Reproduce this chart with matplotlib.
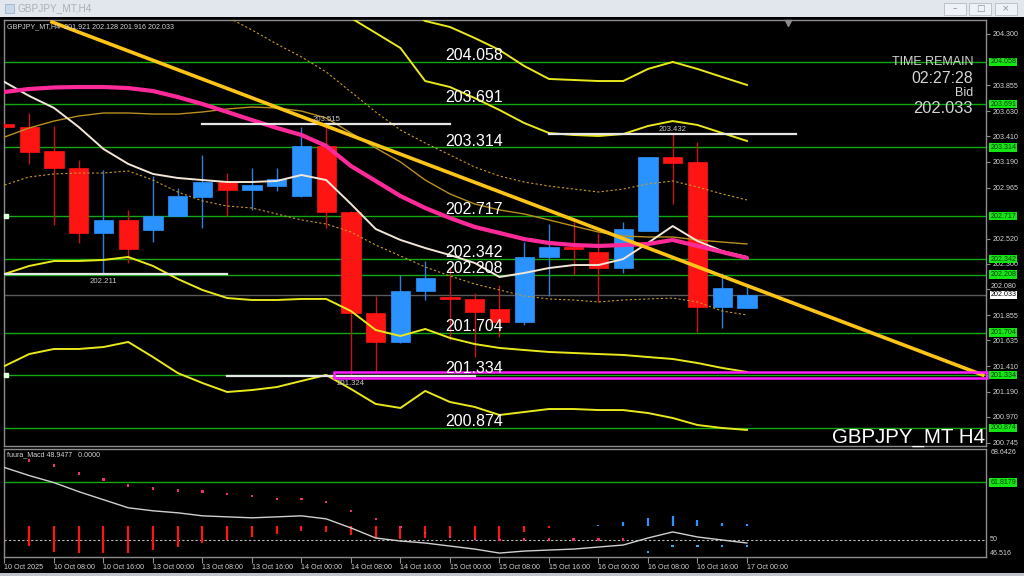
# GBPJPY H4 chart - MetaTrader style recreation
import matplotlib
matplotlib.use('Agg')
import matplotlib.pyplot as plt
from matplotlib import font_manager
from matplotlib.patches import Rectangle
import numpy as np

# ---------------- data ----------------
opens = [203.517, 203.491, 203.283, 203.135, 202.570, 202.683, 202.596, 202.717, 202.883, 203.013,
         202.943, 202.978, 202.891, 203.326, 202.752, 201.874, 201.622, 202.065, 202.013, 201.996,
         201.909, 201.796, 202.361, 202.448, 202.404, 202.265, 202.587, 203.230, 203.187, 201.926, 201.921]
highs = [203.552, 203.613, 203.500, 203.204, 203.117, 202.770, 203.065, 202.961, 203.248, 203.091,
         203.135, 203.135, 203.491, 203.515, 202.761, 202.022, 202.204, 202.326, 202.274, 202.048,
         202.117, 202.491, 202.648, 202.665, 202.570, 202.665, 203.230, 203.432, 203.361, 202.222, 202.128]
lows = [203.483, 203.170, 202.639, 202.483, 202.211, 202.309, 202.491, 202.717, 202.613, 202.717,
        202.770, 202.935, 202.883, 202.613, 201.324, 201.352, 201.613, 201.987, 201.639, 201.491,
        201.665, 201.770, 202.022, 202.204, 201.970, 202.222, 202.587, 202.822, 201.709, 201.743, 201.916]
closes = [203.491, 203.274, 203.135, 202.570, 202.683, 202.430, 202.717, 202.891, 203.013, 202.943,
          202.987, 203.039, 203.326, 202.752, 201.874, 201.622, 202.065, 202.178, 201.996, 201.883,
          201.796, 202.361, 202.448, 202.430, 202.265, 202.604, 203.230, 203.178, 201.926, 202.091, 202.033]

date_labels = ['10 Oct 2025', '10 Oct 08:00', '10 Oct 16:00', '13 Oct 00:00', '13 Oct 08:00',
               '13 Oct 16:00', '14 Oct 00:00', '14 Oct 08:00', '14 Oct 16:00', '15 Oct 00:00',
               '15 Oct 08:00', '15 Oct 16:00', '16 Oct 00:00', '16 Oct 08:00', '16 Oct 16:00',
               '17 Oct 00:00']

# moving averages / bands
ma_fast = [203.883, 203.761, 203.657, 203.491, 203.300, 203.170, 203.083, 203.048, 203.030, 203.013,
           203.013, 203.022, 203.074, 203.030, 202.822, 202.604, 202.509, 202.439, 202.378, 202.309,
           202.187, 202.222, 202.265, 202.291, 202.291, 202.343, 202.483, 202.630, 202.500, 202.413, 202.361]
ma_slow = [203.796, 203.822, 203.835, 203.839, 203.839, 203.830, 203.804, 203.752, 203.691, 203.622,
           203.552, 203.483, 203.422, 203.326, 203.152, 203.022, 202.891, 202.787, 202.700, 202.622,
           202.570, 202.517, 202.483, 202.465, 202.457, 202.465, 202.474, 202.509, 202.457, 202.404, 202.352]
ma_gold = [203.404, 203.483, 203.543, 203.587, 203.613, 203.613, 203.604, 203.604, 203.622, 203.648,
           203.665, 203.657, 203.630, 203.570, 203.439, 203.309, 203.187, 203.030, 202.909, 202.822,
           202.770, 202.735, 202.683, 202.630, 202.578, 202.543, 202.535, 202.535, 202.509, 202.491, 202.474]
dash_low = [202.987, 203.057, 203.083, 203.091, 203.091, 203.109, 203.030, 202.926, 202.848, 202.804,
            202.787, 202.735, 202.683, 202.648, 202.578, 202.465, 202.370, 202.274, 202.196, 202.126,
            202.074, 202.022, 201.996, 201.987, 201.970, 201.987, 201.996, 202.004, 201.970, 201.891, 201.857]
dash_up_start = 8
dash_up = [204.570, 204.448, 204.335, 204.213, 204.100, 203.970, 203.796, 203.622, 203.465, 203.352,
           203.248, 203.143, 203.065, 203.013, 202.978, 202.952, 202.926, 202.952, 202.996, 203.022,
           202.970, 202.909, 202.857]
band_up2_start = 13
band_up2 = [204.570, 204.439, 204.309, 204.178, 203.891, 203.839, 203.743, 203.639, 203.526, 203.439,
            203.422, 203.413, 203.430, 203.500, 203.543, 203.509, 203.439, 203.370]
band_up3_start = 15
band_up3 = [204.726, 204.552, 204.413, 204.361, 204.265, 204.161, 204.022, 203.909, 203.900, 203.891,
            203.891, 203.996, 204.057, 203.996, 203.926, 203.857]
band_dn2 = [202.213, 202.283, 202.326, 202.326, 202.335, 202.361, 202.283, 202.170, 202.074, 202.004,
            201.987, 201.987, 201.996, 201.996, 201.891, 201.726, 201.674, 201.735, 201.657, 201.604,
            201.570, 201.552, 201.535, 201.526, 201.517, 201.509, 201.491, 201.474, 201.439, 201.396, 201.361]
band_dn3 = [201.413, 201.517, 201.561, 201.561, 201.578, 201.622, 201.491, 201.352, 201.265, 201.187,
            201.204, 201.230, 201.283, 201.335, 201.213, 201.083, 201.048, 201.196, 201.100, 201.057,
            200.987, 201.013, 201.039, 201.039, 201.030, 201.030, 201.004, 200.961, 200.900, 200.874, 200.857]

# horizontal levels and objects
levels = [204.058, 203.691, 203.314, 202.717, 202.342, 202.208, 201.704, 201.334, 200.874]
level_label_x = 17.8
# scale labels that are not hidden behind the level boxes
price_ticks = [204.300, 203.855, 203.630, 203.410, 203.190, 202.965, 202.520,
               202.300, 202.080, 201.855, 201.635, 201.410, 201.190, 200.970, 200.745]
crowded_tick = 202.080  # sits right above the bid box, nudged up a little
swing_bars = [13, 27, 4, 14]
swing_prices = [203.515, 203.432, 202.211, 201.324]
swing_above = [True, True, False, False]
trend_x = [1.92, 39.53]
trend_y = [204.404, 201.335]
zone_x = [13.3, 39.7]
zone_y = [201.310, 201.358]
bid = 202.033
ohlc_text = 'GBPJPY_MT,H4  201.921 202.128 201.916 202.033'
time_remain = '02:27:28'

# oscillator panel
macd_line = [64.85, 63.20, 61.75, 59.90, 58.25, 56.60, 55.98, 55.57, 54.95, 54.74, 54.54, 54.74,
             54.95, 54.33, 52.47, 50.41, 49.79, 49.38, 48.76, 48.14, 47.32, 47.73, 47.94, 48.14,
             48.56, 48.97, 50.41, 51.65, 50.62, 50.00, 49.38]
macd_dots = [np.nan, 66.29, 65.26, 63.61, 62.37, 61.13, 60.52, 60.10, 59.90, 59.48, 59.07, 58.45,
             58.45, 57.84, 55.98, 54.33, 52.68, 51.44, 50.62, 50.21, 50.00, 50.10, 50.10, 50.10,
             50.10, 50.10, 47.53, 48.76, 48.76, 48.76, 48.76]
macd_hist = [47.94, 48.76, 47.53, 47.32, 47.32, 47.32, 47.94, 48.56, 49.38, 50.00, 50.62, 51.24,
             51.86, 51.65, 51.03, 50.41, 50.21, 50.41, 50.41, 50.41, 50.21, 51.65, 52.47, 52.78,
             53.09, 53.71, 54.54, 54.95, 54.12, 53.51, 53.30]
hist_base = 52.9
macd_level = 61.8179
macd_mid = 50.0
macd_lim = (46.516, 68.6426)

# ---------------- styling ----------------
W, H = 1024, 576
GRID_GREEN = '#12A812'
BOX_GREEN = '#14E614'
RED = '#FF1414'
BLUE = '#2A93FF'
TXT = '#D4D4D4'
SPINE = '#8C8C8C'

plt.rcParams['font.family'] = ['Liberation Sans', 'DejaVu Sans']
names = {f.name for f in font_manager.fontManager.ttflist}
if 'Liberation Sans Narrow' in names:
    NARROW = ['Liberation Sans Narrow', 'Liberation Sans']
    NF = 1.0
else:
    NARROW = ['Liberation Sans', 'DejaVu Sans']
    NF = 0.82
SMALL = 6.3 * NF


def px_x(px):
    return px / W


def px_y(px):
    return 1 - px / H


def style_axes(ax):
    ax.set_facecolor('black')
    for s in ax.spines.values():
        s.set_color(SPINE)
        s.set_linewidth(1.0)


def axis_box(ax, y, text, fc, tc, pad=0.15):
    ax.annotate(text, xy=(1.0, y), xycoords=('axes fraction', 'data'), xytext=(3, 0),
                textcoords='offset points', ha='left', va='center', fontsize=SMALL,
                family=NARROW, color=tc, annotation_clip=False, zorder=20,
                bbox=dict(boxstyle=f'square,pad={pad}', fc=fc, ec='none'))


def axis_label(ax, y, text, va='center', dy=0):
    ax.annotate(text, xy=(1.0, y), xycoords=('axes fraction', 'data'), xytext=(3, dy),
                textcoords='offset points', ha='left', va=va, fontsize=SMALL,
                family=NARROW, color=TXT, annotation_clip=False)


def draw_window(fig):
    # title bar
    fig.patches.append(Rectangle((0, px_y(17)), 1, 17 / H, transform=fig.transFigure,
                                 facecolor='#E2E7ED', edgecolor='none', zorder=0))
    fig.patches.append(Rectangle((px_x(5), px_y(13)), 9 / W, 9 / H, transform=fig.transFigure,
                                 facecolor='#C9D8E8', edgecolor='#9DB4CC', lw=0.6, zorder=1))
    fig.text(px_x(18), px_y(8.5), 'GBPJPY_MT,H4', color='#A7B0BA', fontsize=7.2,
             va='center', ha='left')
    for x0, sym in [(944, '\u2013'), (969, '\u25a1'), (995, '\u00d7')]:
        fig.patches.append(Rectangle((px_x(x0), px_y(15)), 22 / W, 12 / H,
                                     transform=fig.transFigure, facecolor='#EEF1F5',
                                     edgecolor='#B4BCC6', lw=0.6, zorder=1))
        fig.text(px_x(x0 + 11), px_y(9), sym, color='#8A929C', fontsize=6.5,
                 ha='center', va='center', family=['DejaVu Sans'])
    fig.patches.append(Rectangle((0, 0), 1, 3 / H, transform=fig.transFigure,
                                 facecolor='#BFC4CA', edgecolor='none', zorder=0))


def draw_price_panel(fig):
    ax = fig.add_axes([px_x(4), px_y(446), 982 / W, 426 / H])
    style_axes(ax)
    n = len(opens)
    x = np.arange(n)
    ax.set_xlim(-0.02, 39.66)
    ax.set_ylim(200.7174, 204.4217)

    # levels and bid line
    for lv in levels:
        ax.axhline(lv, color=GRID_GREEN, lw=1.0, zorder=1)
        ax.annotate(f'{lv:.3f}', xy=(level_label_x, lv), xytext=(0, 1.3),
                    textcoords='offset points', color='white', fontsize=11.5,
                    ha='left', va='baseline', zorder=9)
    ax.axhline(bid, color='#5A5A5A', lw=1.0, zorder=1)

    # candles
    o = np.array(opens)
    c = np.array(closes)
    up = c >= o
    body_col = np.where(up, BLUE, RED)
    wick_col = np.where(up, '#2F7FD8', '#C81414')
    ax.vlines(x, lows, highs, colors=wick_col, lw=1.0, zorder=2)
    ax.bar(x, np.maximum(np.abs(c - o), 0.012), bottom=np.minimum(o, c), width=0.78,
           color=body_col, edgecolor=body_col, lw=0.5, zorder=3)

    # indicators
    ax.plot(x, band_dn2, color='#E8E81C', lw=1.4, zorder=4)
    ax.plot(x, band_dn3, color='#E8E81C', lw=1.4, zorder=4)
    ax.plot(x[band_up2_start:], band_up2, color='#E8E81C', lw=1.4, zorder=4)
    ax.plot(x[band_up3_start:], band_up3, color='#E8E81C', lw=1.4, zorder=4)
    ax.plot(x, dash_low, color='#C89A2A', lw=0.8, ls=(0, (2, 2)), zorder=4)
    ax.plot(x[dash_up_start:], dash_up, color='#C89A2A', lw=0.8, ls=(0, (2, 2)), zorder=4)
    ax.plot(x, ma_gold, color='#B8901E', lw=1.0, zorder=4)
    ax.plot(x, ma_fast, color='#F2E6D6', lw=1.4, zorder=4)
    ax.plot(x, ma_slow, color='#FF2A9A', lw=3.0, zorder=4, solid_capstyle='round')

    # trend line, swing marks, support zone
    ax.plot(trend_x, trend_y, color='#FFC418', lw=2.6, zorder=6)
    for b, p, above in zip(swing_bars, swing_prices, swing_above):
        ax.plot([b - 5, b + 5], [p, p], color='#E6E6E6', lw=1.6, zorder=5)
        ax.annotate(f'{p:.3f}', xy=(b, p), xytext=(0, 2 if above else -2.5),
                    textcoords='offset points', ha='center',
                    va='baseline' if above else 'top', color='#C8C8C8',
                    fontsize=6.8 * NF, family=NARROW, zorder=9)
    ax.add_patch(Rectangle((zone_x[0], zone_y[0]), zone_x[1] - zone_x[0], zone_y[1] - zone_y[0],
                           facecolor='none', edgecolor='#FF1EFF', lw=1.8, zorder=7,
                           clip_on=False))
    ax.plot([0.05, 0.05], [202.717, 201.334], 's', ms=2.5, color='#DDFFDD', zorder=8,
            clip_on=False)
    ax.plot(0.798, 0.992, marker='v', color='#8C8C8C', ms=4, transform=ax.transAxes,
            clip_on=False, zorder=8)

    # texts
    ax.text(px_x(3) * W / 982, 0.9836, ohlc_text, transform=ax.transAxes, color=TXT,
            fontsize=SMALL, family=NARROW, va='center', ha='left', zorder=9)
    rx = 0.9868
    ax.text(rx, 0.8944, 'TIME REMAIN', transform=ax.transAxes, color=TXT, ha='right',
            va='baseline', fontsize=11 * NF, family=NARROW, zorder=9)
    ax.text(rx, 0.8521, time_remain, transform=ax.transAxes, color=TXT, ha='right',
            va='baseline', fontsize=14 * NF, family=NARROW, zorder=9)
    ax.text(rx, 0.8216, 'Bid', transform=ax.transAxes, color=TXT, ha='right',
            va='baseline', fontsize=11 * NF, family=NARROW, zorder=9)
    ax.text(rx, 0.7817, f'{bid:.3f}', transform=ax.transAxes, color=TXT, ha='right',
            va='baseline', fontsize=14.5 * NF, family=NARROW, zorder=9)
    ax.text(0.999, 0.008, 'GBPJPY_MT H4', transform=ax.transAxes, color='white',
            ha='right', va='baseline', fontsize=18 * NF, family=NARROW, zorder=9)

    # right price scale
    ax.set_xticks([])
    ax.yaxis.tick_right()
    ax.set_yticks(price_ticks)
    ax.set_yticklabels(['' if t == crowded_tick else f'{t:.3f}' for t in price_ticks],
                       family=NARROW)
    ax.tick_params(axis='y', length=3, width=0.8, color=SPINE, labelcolor=TXT,
                   labelsize=SMALL, pad=1.5)
    axis_label(ax, crowded_tick, f'{crowded_tick:.3f}', dy=1.8)
    for lv in levels:
        axis_box(ax, lv, f'{lv:.3f}', BOX_GREEN, '#0B3A0B', pad=0.1)
    axis_box(ax, bid, f'{bid:.3f}', 'white', 'black', pad=0.08)
    return ax


def draw_macd_panel(fig):
    ax = fig.add_axes([px_x(4), px_y(557), 982 / W, 108 / H])
    style_axes(ax)
    n = len(macd_line)
    x = np.arange(n)
    ax.set_xlim(-0.02, 39.66)
    ax.set_ylim(*macd_lim)

    ax.axhline(macd_level, color=GRID_GREEN, lw=1.0, zorder=1)
    ax.axhline(macd_mid, color='#BDBDBD', lw=0.8, ls=(0, (2, 2)), zorder=1)

    hist_col = [RED if i <= 23 else BLUE for i in range(n)]
    ax.vlines(x, hist_base, macd_hist, colors=hist_col, lw=1.6, zorder=2)
    dot_col = ['#F0306A' if i <= 25 else '#3AA6E6' for i in range(n)]
    ax.scatter(x, macd_dots, s=3, marker='s', c=dot_col, lw=0, zorder=3)
    ax.plot(x, macd_line, color='#CFCFCF', lw=1.0, zorder=4)

    ax.text(px_x(3) * W / 982, 0.944, 'fuura_Macd 48.9477   0.0000', transform=ax.transAxes,
            color=TXT, fontsize=SMALL, family=NARROW, va='center', ha='left')

    ax.set_yticks([])
    axis_label(ax, macd_lim[1], '68.6426', va='top')
    axis_label(ax, macd_mid, '50')
    axis_label(ax, macd_lim[0], '46.516', va='bottom')
    axis_box(ax, macd_level, f'{macd_level:.4f}', BOX_GREEN, '#0B3A0B', pad=0.1)

    ax.set_xticks(np.arange(0, n, 2))
    ax.set_xticklabels(date_labels, family=NARROW, ha='left')
    ax.tick_params(axis='x', length=4, width=0.8, color=SPINE, labelcolor=TXT,
                   labelsize=SMALL, pad=1.0)
    return ax


def main():
    fig = plt.figure(figsize=(W / 100, H / 100), dpi=100, facecolor='black')
    draw_window(fig)
    draw_price_panel(fig)
    draw_macd_panel(fig)
    fig.savefig('out.png', dpi=100, facecolor='black')


if __name__ == '__main__':
    main()
